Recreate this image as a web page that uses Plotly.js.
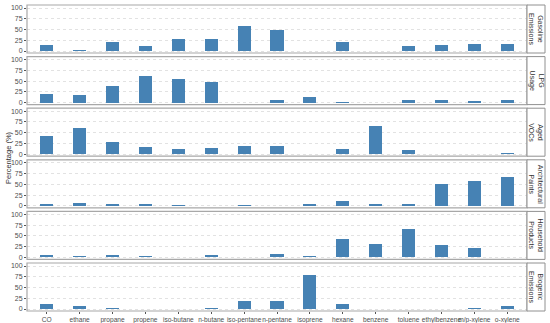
<!DOCTYPE html>
<html><head><meta charset="utf-8">
<script src="https://cdn.plot.ly/plotly-3.0.1.min.js"></script>
<style>html,body{margin:0;padding:0;background:#fff}#chart{width:550px;height:323px}</style>
</head><body><div id="chart"></div>
<script>
const categories = ["CO","ethane","propane","propene","iso-butane","n-butane","iso-pentane","n-pentane","isoprene","hexane","benzene","toluene","ethylbenzene","m/p-xylene","o-xylene"];
const panelLabels = ["Gasoline<br>Emissions","LPG<br>Usage","Aged<br>VOCs","Architectural<br>Paints","Household<br>Products","Biogenic<br>Emissions"];
const gasoline = [13,2,22,12,28,29,58,48,0,21,0,11,13,17,16];
const lpg = [21,18,39,61,56,48,0,6,12,1,0,5,7,4,7];
const agedVOCs = [43,62,28,17,13,15,20,18,0,12,65,10,0,0,2];
const paints = [4,6,4,4,1,0,2,0,5,12,5,5,50,57,68];
const household = [6,3,5,3,0,5,0,9,3,42,31,66,30,21,0];
const biogenic = [12,8,2,0,1,3,19,19,80,11,0,0,0,2,7];
const yTicks = [0,25,50,75,100];
const series = [gasoline,lpg,agedVOCs,paints,household,biogenic];

const W=550,H=323,mL=27,mR=23,mT=5,mB=12;
const plotH=H-mT-mB, panelH=48, gap=(plotH-6*panelH)/5;
const traces=[], shapes=[], annotations=[];
const layout={width:W,height:H,margin:{l:mL,r:mR,t:mT,b:mB},showlegend:false,
  paper_bgcolor:'#fff',plot_bgcolor:'#fff',font:{family:'Liberation Sans, Arial, sans-serif',size:7,color:'#4d4d4d'},
  bargap:0};
layout.xaxis={type:'category',range:[-0.6,14.6],anchor:'y6',showgrid:false,zeroline:false,tickangle:0,
  ticks:'outside',ticklen:2,tickcolor:'#555',tickfont:{size:6.6,color:'#4d4d4d'},showline:false,fixedrange:true,automargin:false};
series.forEach((vals,i)=>{
  const top=mT+i*(panelH+gap), bot=top+panelH;
  const d0=(H-mB-bot)/plotH, d1=(H-mB-top)/plotH;
  const yn = i===0?'y':'y'+(i+1);
  const yk = i===0?'yaxis':'yaxis'+(i+1);
  traces.push({type:'bar',x:categories,y:vals,xaxis:'x',yaxis:yn,width:0.4,
    marker:{color:'#4682b4',line:{width:0}},hoverinfo:'x+y'});
  layout[yk]={domain:[d0,d1],range:[-4.6,107],anchor:'x',tickvals:yTicks,ticks:'outside',ticklen:2,
    tickcolor:'#555',tickfont:{size:7,color:'#4d4d4d'},showgrid:true,gridcolor:'#e2e2e2',griddash:'dot',
    gridwidth:1,zeroline:false,showline:false,fixedrange:true};
  shapes.push({type:'rect',xref:'paper',yref:yn+' domain',x0:0,x1:1,y0:0,y1:1,line:{color:'#a8a8a8',width:1.2},fillcolor:'rgba(0,0,0,0)'});
  shapes.push({type:'rect',xref:'paper',yref:yn+' domain',x0:1,x1:1+18/500,y0:0,y1:1,line:{color:'#909090',width:1},fillcolor:'#ffffff'});
  annotations.push({xref:'paper',yref:yn+' domain',x:1+9/500,y:0.5,text:panelLabels[i],textangle:90,showarrow:false,
    font:{size:7,color:'#333'},xanchor:'center',yanchor:'middle'});
});
annotations.push({xref:'paper',yref:'paper',x:(8-mL)/500,y:0.5,text:'Percentage (%)',textangle:-90,showarrow:false,
  font:{size:7.5,color:'#333'},xanchor:'center',yanchor:'middle'});
layout.shapes=shapes; layout.annotations=annotations;
Plotly.newPlot('chart',traces,layout,{displayModeBar:false,staticPlot:true});
</script></body></html>
